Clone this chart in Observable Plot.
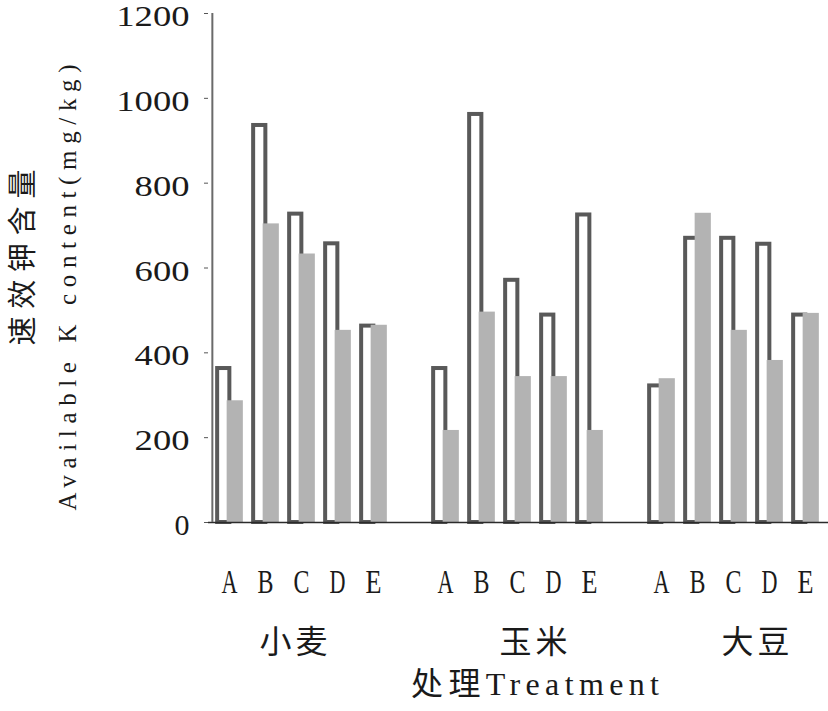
<!DOCTYPE html>
<html>
<head>
<meta charset="utf-8">
<script src="https://cdn.jsdelivr.net/npm/d3@7"></script>
<script src="https://cdn.jsdelivr.net/npm/@observablehq/plot@0.6"></script>
<style>
  html, body { margin: 0; padding: 0; background: #fff; }
</style>
</head>
<body>
<div id="chart"></div>
<script>
// ---- data ----
const groups = ["小麦", "玉米", "大豆"];
const treatments = ["A", "B", "C", "D", "E"];
const yTicks = [0, 200, 400, 600, 800, 1000, 1200];

// hollow (outlined) series
const hollowWheat = [363, 936, 727, 657, 463];
const hollowCorn  = [363, 962, 571, 489, 725];
const hollowSoy   = [322, 670, 670, 656, 489];
// filled (grey) series
const filledWheat = [287, 704, 633, 453, 465];
const filledCorn  = [217, 496, 344, 344, 217];
const filledSoy   = [339, 729, 453, 382, 493];

const hollowByGroup = [hollowWheat, hollowCorn, hollowSoy];
const filledByGroup = [filledWheat, filledCorn, filledSoy];

const yTitleCn = "速效钾含量";
const yTitleEn = "Available K content(mg/kg)";
const xTitle = "处理Treatment";

// ---- table for the library ----
const rows = [];
const domain = [];
groups.forEach((g, gi) => {
  if (gi > 0) domain.push("gap" + gi);
  treatments.forEach((t, ti) => {
    const key = g + "-" + t;
    domain.push(key);
    rows.push({key, group: g, treatment: t,
               hollow: hollowByGroup[gi][ti], filled: filledByGroup[gi][ti]});
  });
});
const tickKeys = rows.map(d => d.key);

const LATIN = "'Liberation Serif', 'Noto Sans CJK SC', serif";
const CJK = "'Noto Sans CJK SC', sans-serif";
const half = (828 - 208 - 3) / 17 / 2;

const plot = Plot.plot({
  width: 828,
  height: 711,
  marginLeft: 208,
  marginRight: 3,
  marginTop: 13,
  marginBottom: 189,
  style: {background: "#fff", color: "#1a1a1a", fontFamily: LATIN},
  x: {type: "band", domain, padding: 0, axis: null},
  y: {domain: [0, 1200], axis: null},
  marks: [
    Plot.barY(rows, {x: "key", y: "hollow", fill: "none", stroke: "#595959", strokeWidth: 4,
                     insetLeft: half - 12, insetRight: half - 0.5}),
    Plot.barY(rows, {x: "key", y: "filled", fill: "#b3b3b3",
                     insetLeft: half - 2.5, insetRight: half - 14}),
    Plot.ruleY([0], {stroke: "#2b2b2b", strokeWidth: 1.5, insetRight: -3}),
    Plot.ruleX([domain[0]], {x: d => d, dx: -half + 1, stroke: "#6a6a6a", strokeWidth: 2}),
    Plot.axisY({ticks: yTicks, tickFormat: d => String(d), tickSize: 4, tickPadding: 15,
                fontSize: 30, label: null, stroke: "#555"}),
    Plot.axisX({ticks: tickKeys, tickFormat: k => k.split("-")[1], tickSize: 0, tickPadding: 46,
                fontSize: 34, label: null}),
    Plot.text([groups[0]], {x: d => d + "-C", text: d => d, frameAnchor: "bottom", dx: -8, dy: 130,
                            fontSize: 32, fontFamily: CJK}),
    Plot.text([groups[1]], {x: d => d + "-C", text: d => d, frameAnchor: "bottom", dx: 16, dy: 130,
                            fontSize: 32, fontFamily: CJK}),
    Plot.text([groups[2]], {x: d => d + "-C", text: d => d, frameAnchor: "bottom", dx: 22, dy: 130,
                            fontSize: 32, fontFamily: CJK}),
    Plot.text([xTitle], {text: d => d, frameAnchor: "bottom", dx: 18, dy: 172,
                         fontSize: 32, fontFamily: LATIN}),
    Plot.text([yTitleCn], {text: d => d, frameAnchor: "left", textAnchor: "middle", rotate: -90,
                           dx: -185, dy: -10.5, fontSize: 29, fontFamily: CJK}),
    Plot.text([yTitleEn], {text: d => d, frameAnchor: "left", textAnchor: "middle",
                           rotate: -90, dx: -141, dy: 19.5, fontSize: 25, fontFamily: LATIN})
  ]
});

// fine-tune glyph spacing of the texts (the reference uses wide, spaced lettering)
d3.select(plot).selectAll("text").each(function() {
  const t = this.textContent;
  const s = d3.select(this);
  if (t === yTitleCn) {
    s.attr("textLength", 176).attr("lengthAdjust", "spacing");
  } else if (t === yTitleEn) {
    s.attr("textLength", 446).attr("lengthAdjust", "spacing");
  } else if (t === xTitle) {
    s.attr("textLength", 248).attr("lengthAdjust", "spacing");
  } else if (groups.includes(t)) {
    s.attr("textLength", 68).attr("lengthAdjust", "spacing");
  } else if (treatments.includes(t)) {
    s.attr("textLength", 16).attr("lengthAdjust", "spacingAndGlyphs");
  } else if (/^\d+$/.test(t)) {
    s.attr("textLength", t.length === 1 ? 15 : 18.3 * t.length).attr("lengthAdjust", "spacingAndGlyphs")
     .attr("dy", "0.1em");
  }
});

document.getElementById("chart").appendChild(plot);
</script>
</body>
</html>
